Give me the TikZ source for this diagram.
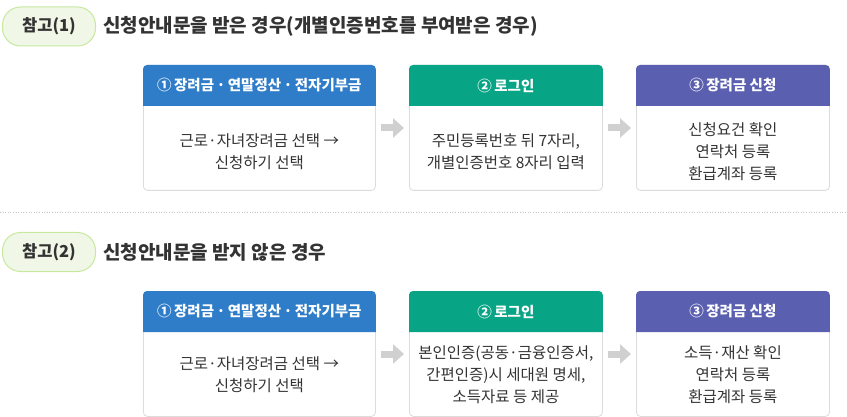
\documentclass[tikz,border=0pt]{standalone}
\usepackage{fontspec}
\setmainfont{Noto Sans CJK KR}
\usetikzlibrary{arrows.meta,calc}
\definecolor{txt}{HTML}{333333}
\definecolor{hblue}{HTML}{2F7DC8}
\definecolor{hgreen}{HTML}{07A585}
\definecolor{hpurple}{HTML}{5A5FB0}
\definecolor{bfill}{HTML}{F0F7E6}
\definecolor{bline}{HTML}{C8E8A0}
\definecolor{frame}{HTML}{DCDCDC}
\definecolor{arr}{HTML}{D0D0D0}
\tikzset{
  badge/.style={draw=bline, line width=1pt, fill=bfill, rounded corners=18pt,
    minimum width=93pt, minimum height=39pt, inner sep=0pt,
    font=\fontsize{16.5}{19}\selectfont\bfseries, text=txt},
  title/.style={anchor=west, inner sep=0pt, font=\fontsize{19}{22}\selectfont\bfseries, text=txt},
  stepbox/.style={draw=frame, line width=0.8pt, fill=white, rounded corners=4pt,
    minimum height=125pt, inner sep=0pt, anchor=north west},
  headtext/.style={text=white, inner sep=0pt, font=\fontsize{14.5}{17}\selectfont\bfseries},
  bodytext/.style={text=txt, inner sep=0pt, align=center, font=\fontsize{15.5}{22}\selectfont},
  flow/.style={draw=arr, line width=7pt, -{Triangle[length=11pt,width=19pt]}}
}
\newcommand{\headbar}[2]{%
  \fill[#2] ([yshift=-41pt]#1.north west) [rounded corners=4pt] -- (#1.north west) -- (#1.north east) [sharp corners] -- ([yshift=-41pt]#1.north east) -- cycle;}
\begin{document}
\begin{tikzpicture}[x=1pt,y=1pt]
\useasboundingbox (0,0) rectangle (847,-417);
% ---------- section 1 ----------
\node[badge] (bd1) at (49,-26.5) {참고(1)};
\node[title] (t1) at (103,-26) {신청안내문을 받은 경우(개별인증번호를 부여받은 경우)};

\node[stepbox, minimum width=232pt] (a1) at (143,-65) {};
\node[stepbox, minimum width=193pt] (a2) at (409,-65) {};
\node[stepbox, minimum width=193pt] (a3) at (636,-65) {};
\headbar{a1}{hblue}
\headbar{a2}{hgreen}
\headbar{a3}{hpurple}
\node[headtext] (ha1) at ([yshift=-20.5pt]a1.north) {①\,장려금\,·\,연말정산\,·\,전자기부금};
\node[headtext] (ha2) at ([yshift=-20.5pt]a2.north) {②\,로그인};
\node[headtext] (ha3) at ([yshift=-20.5pt]a3.north) {③\,장려금 신청};
\node[bodytext] (ba1) at ([yshift=-87pt]a1.north) {근로·자녀장려금 선택 →\\신청하기 선택};
\node[bodytext] (ba2) at ([yshift=-87pt]a2.north) {주민등록번호 뒤 7자리,\\개별인증번호 8자리 입력};
\node[bodytext] (ba3) at ([yshift=-87pt]a3.north) {신청요건 확인\\연락처 등록\\환급계좌 등록};
\draw[flow] ([xshift=5pt,yshift=-63pt]a1.north east) -- ([xshift=-5pt,yshift=-63pt]a2.north west);
\draw[flow] ([xshift=5pt,yshift=-63pt]a2.north east) -- ([xshift=-5pt,yshift=-63pt]a3.north west);

% ---------- separator ----------
\coordinate (s1) at (0,-212);
\coordinate (s2) at (847,-212);
\draw[frame!90!black, line width=0.6pt, dotted] (s1) -- (s2);

% ---------- section 2 ----------
\node[badge] (bd2) at (49,-252) {참고(2)};
\node[title] (t2) at (103,-252) {신청안내문을 받지 않은 경우};

\node[stepbox, minimum width=232pt] (c1) at (143,-291) {};
\node[stepbox, minimum width=193pt] (c2) at (409,-291) {};
\node[stepbox, minimum width=193pt] (c3) at (636,-291) {};
\headbar{c1}{hblue}
\headbar{c2}{hgreen}
\headbar{c3}{hpurple}
\node[headtext] (hc1) at ([yshift=-20.5pt]c1.north) {①\,장려금\,·\,연말정산\,·\,전자기부금};
\node[headtext] (hc2) at ([yshift=-20.5pt]c2.north) {②\,로그인};
\node[headtext] (hc3) at ([yshift=-20.5pt]c3.north) {③\,장려금 신청};
\node[bodytext] (bc1) at ([yshift=-84pt]c1.north) {근로·자녀장려금 선택 →\\신청하기 선택};
\node[bodytext] (bc2) at ([yshift=-84pt]c2.north) {본인인증(공동·금융인증서,\\간편인증)시 세대원 명세,\\소득자료 등 제공};
\node[bodytext] (bc3) at ([yshift=-84pt]c3.north) {소득·재산 확인\\연락처 등록\\환급계좌 등록};
\draw[flow] ([xshift=5pt,yshift=-63pt]c1.north east) -- ([xshift=-5pt,yshift=-63pt]c2.north west);
\draw[flow] ([xshift=5pt,yshift=-63pt]c2.north east) -- ([xshift=-5pt,yshift=-63pt]c3.north west);
\end{tikzpicture}
\end{document}
